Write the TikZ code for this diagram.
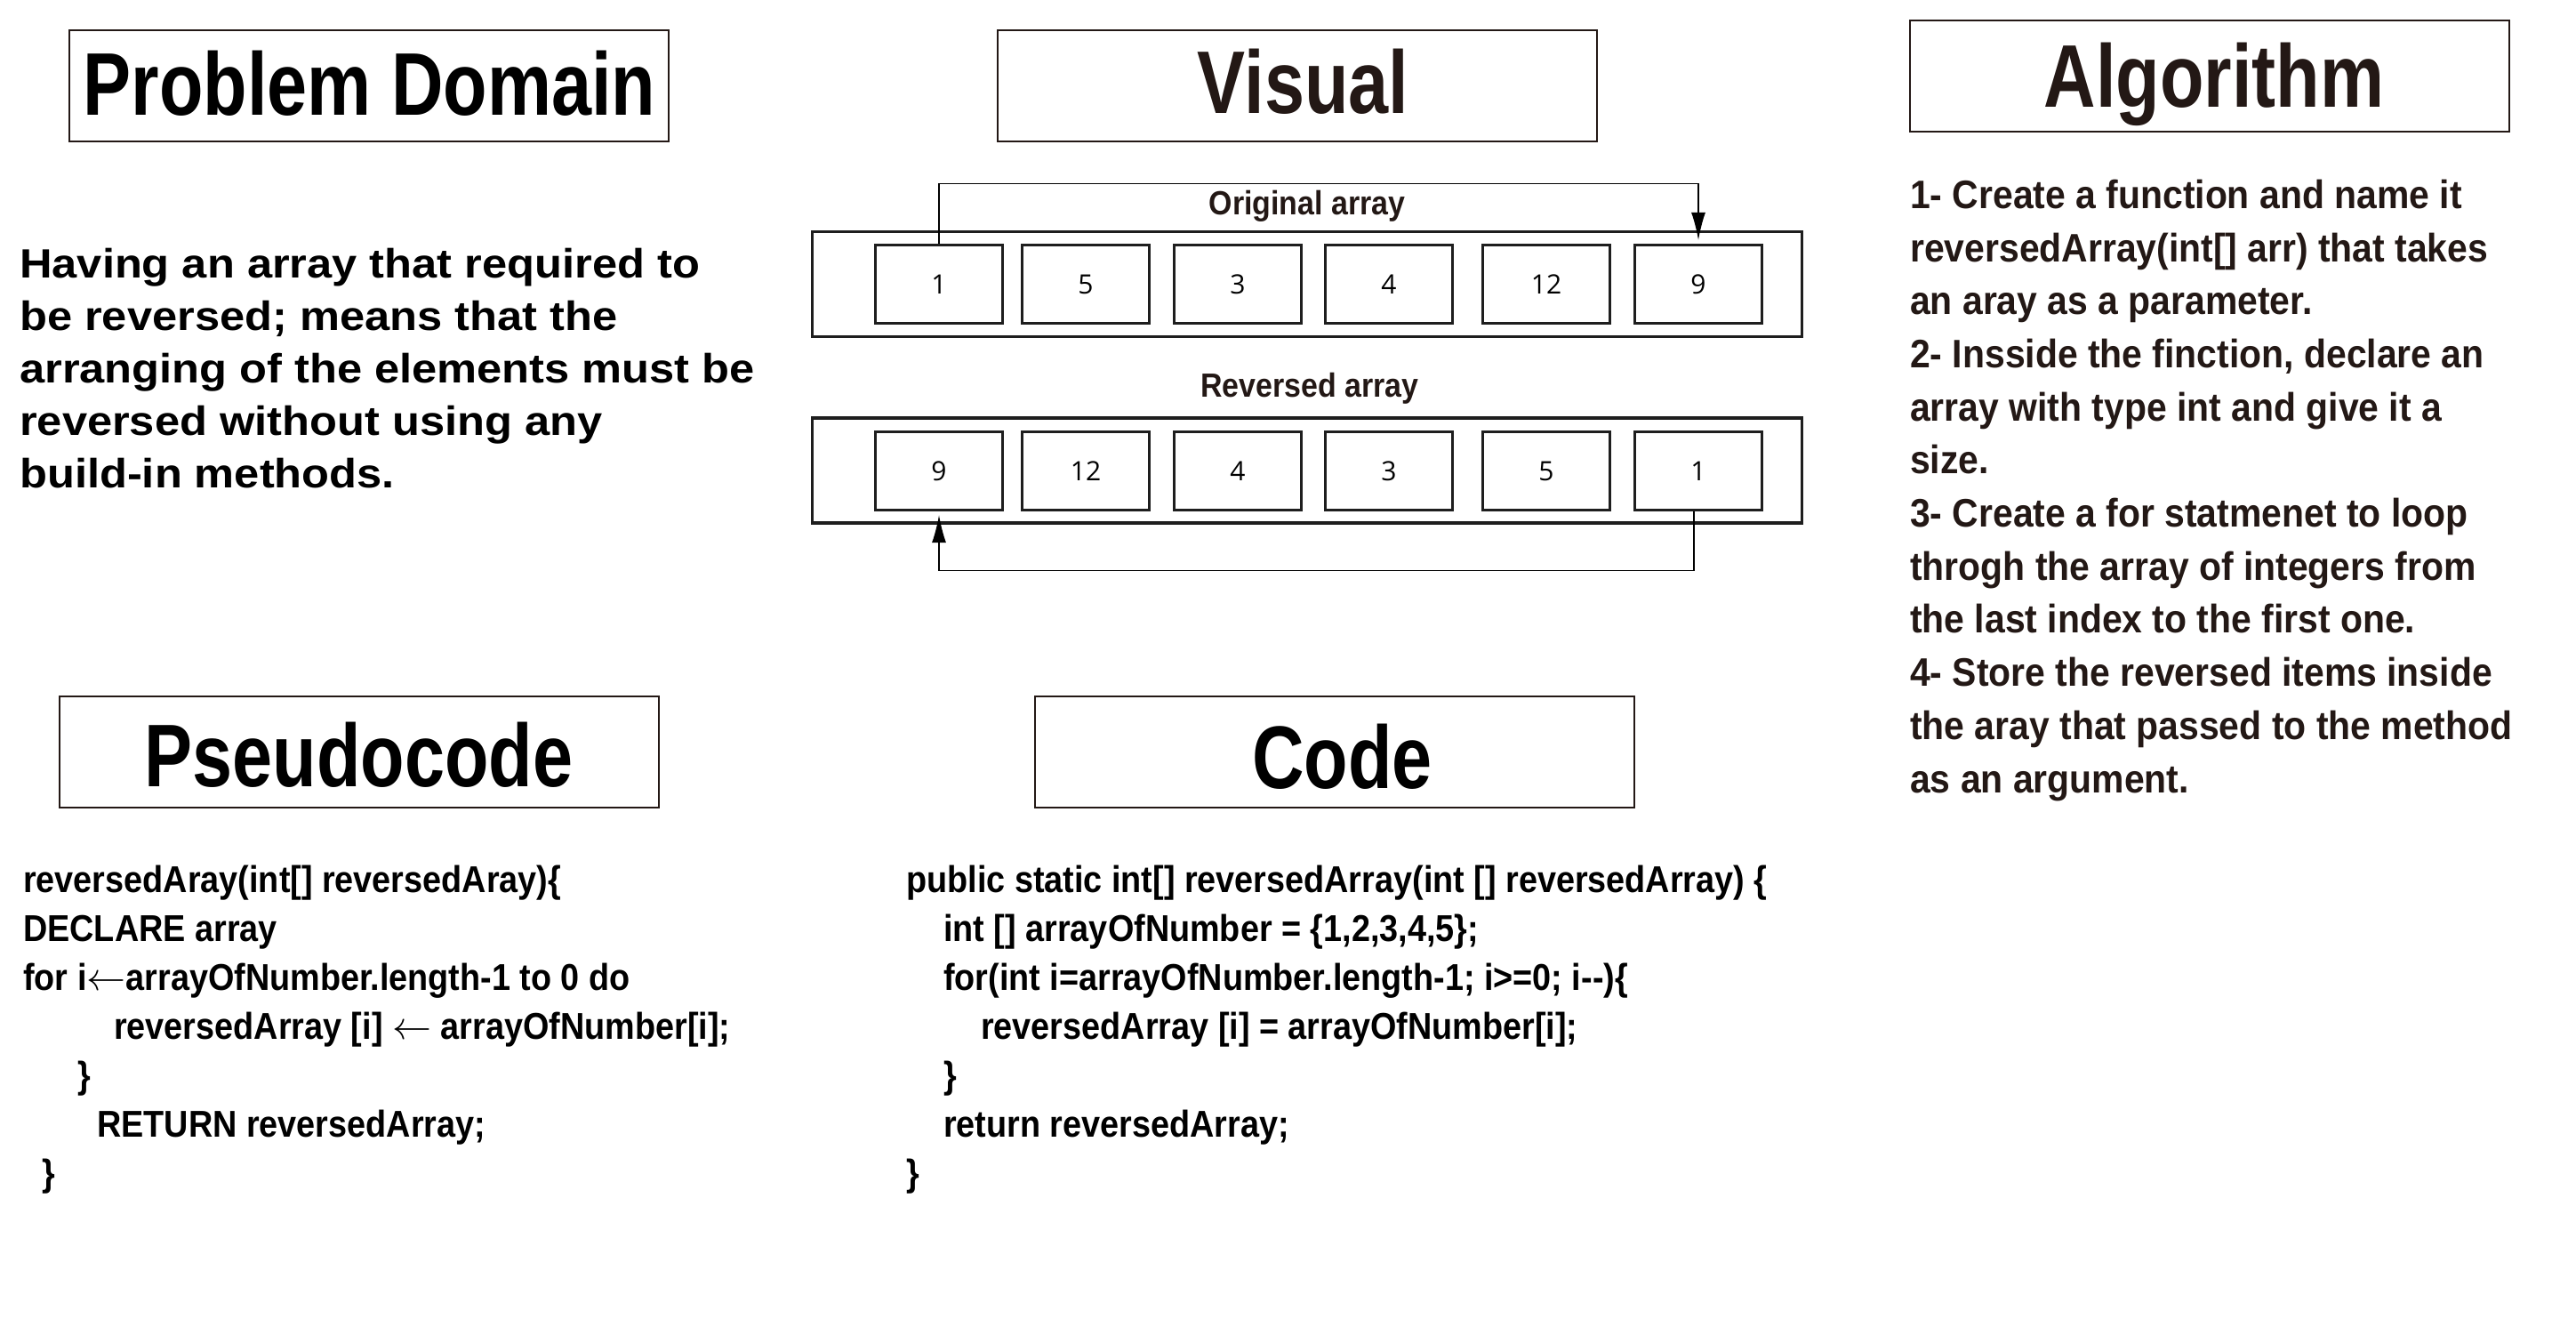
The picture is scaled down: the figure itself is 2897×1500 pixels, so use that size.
\documentclass[tikz,border=0pt]{standalone}
\usepackage{fontspec}
\usepackage{graphicx}
\usetikzlibrary{arrows.meta}
\newfontfamily\titlef{Liberation Sans}[FakeStretch=0.81]
\newfontfamily\labelf{Liberation Sans}[FakeStretch=0.90]
\newfontfamily\parf{Liberation Sans}[FakeStretch=1.10]
\newfontfamily\algf{Liberation Sans}[FakeStretch=0.915]
\newfontfamily\codef{Liberation Sans}[FakeStretch=0.90]
\newfontfamily\digitf{Open Sans}
\definecolor{ink}{HTML}{231815}
\definecolor{boxline}{HTML}{1E1E1E}
\newcommand\larr{\resizebox{44pt}{!}{\ensuremath{\mathnormal{\leftarrow}}}}
\begin{document}
\begin{tikzpicture}[x=1pt,y=-1pt,
  titlebox/.style={draw=ink, line width=2pt, minimum width=674pt, minimum height=125pt, inner sep=0pt},
  titletext/.style={anchor=base, inner sep=0pt, font=\titlef\bfseries\fontsize{100}{110}\selectfont},
  outerbox/.style={draw=boxline, line width=3.3pt, minimum width=1113pt, minimum height=118pt, inner sep=0pt},
  cell/.style={draw=boxline, line width=3.3pt, minimum width=143pt, minimum height=88pt, inner sep=0pt, font=\digitf\fontsize{30}{36}\selectfont},
  lbl/.style={anchor=base, inner sep=0pt, text=ink, font=\labelf\bfseries\fontsize{37.7}{45}\selectfont},
  conn/.style={draw=black, line width=1.3pt, -{Latex[length=31pt,width=16pt]}, shorten >=4pt},
  ptext/.style={anchor=base west, inner sep=0pt, font=\parf\bfseries\fontsize{46}{58.9}\selectfont},
  atext/.style={anchor=base west, inner sep=0pt, text=ink, font=\algf\bfseries\fontsize{44.7}{59.7}\selectfont},
  ctext/.style={anchor=base west, inner sep=0pt, font=\codef\bfseries\fontsize{42}{55}\selectfont}
]
\fill[white] (0,0) rectangle (2897,1500);
\useasboundingbox (0,0) rectangle (2897,1500);

% title boxes
\node[titlebox] (pdbox) at (415,96.3) {};
\node[titletext] (pdtitle) at (415.6,129) {Problem Domain};
\node[titlebox] (visbox) at (1458.5,96.3) {};
\node[titletext, text=ink] (vistitle) at (1465.5,127) {Visual};
\node[titlebox] (algbox) at (2485,85.3) {};
\node[titletext, text=ink] (algtitle) at (2490,120.8) {Algorithm};
\node[titlebox] (psbox) at (404,845.5) {};
\node[titletext] (pstitle) at (403.5,884) {Pseudocode};
\node[titlebox] (codebox) at (1501,845.5) {};
\node[titletext] (codetitle) at (1509.5,886) {Code};

% problem domain text
\node[ptext] (pdtext) at (22,312.8) {\begin{tabular}[t]{@{}l@{}}
Having an array that required to\\
be reversed; means that the\\
arranging of the elements must be\\
reversed without using any\\
build-in methods.
\end{tabular}};

% algorithm text
\node[atext] (algtext) at (2148,234.3) {\begin{tabular}[t]{@{}l@{}}
1- Create a function and name it\\
reversedArray(int[] arr) that takes\\
an aray as a parameter.\\
2- Insside the finction, declare an\\
array with type int and give it a\\
size.\\
3- Create a for statmenet to loop\\
throgh the array of integers from\\
the last index to the first one.\\
4- Store the reversed items inside\\
the aray that passed to the method\\
as an argument.
\end{tabular}};

% visual
\node[lbl] (lorig) at (1470,241) {Original array};
\node[lbl] (lrev) at (1473,446) {Reversed array};
\node[outerbox] (o1) at (1470,319.5) {};
\node[outerbox] (o2) at (1470,529) {};
\node[cell] (c1) at (1056,319.5) {1};
\node[cell] (c2) at (1221,319.5) {5};
\node[cell] (c3) at (1392,319.5) {3};
\node[cell] (c4) at (1562,319.5) {4};
\node[cell] (c5) at (1739,319.5) {12};
\node[cell] (c6) at (1910,319.5) {9};
\node[cell] (r1) at (1056,529.5) {9};
\node[cell] (r2) at (1221,529.5) {12};
\node[cell] (r3) at (1392,529.5) {4};
\node[cell] (r4) at (1562,529.5) {3};
\node[cell] (r5) at (1739,529.5) {5};
\node[cell] (r6) at (1910,529.5) {1};
\draw[conn] (c1.north) -- ++(0,-67.5) -| (c6.north);
\draw[conn] ([xshift=-5pt]r6.south) -- ++(0,66.5) -| (r1.south);

% pseudocode
\node[ctext] (pstext) at (26,1003) {\begin{tabular}[t]{@{}l@{}}
reversedAray(int[] reversedAray)\{\\
DECLARE array\\
for i\larr arrayOfNumber.length-1 to 0 do\\
\hspace*{102pt}reversedArray [i] \larr{} arrayOfNumber[i];\\
\hspace*{61pt}\}\\
\hspace*{83pt}RETURN reversedArray;\\
\hspace*{21pt}\}
\end{tabular}};

% code
\node[ctext] (codetext) at (1019,1003) {\begin{tabular}[t]{@{}l@{}}
public static int[] reversedArray(int [] reversedArray) \{\\
\hspace*{42pt}int [] arrayOfNumber = \{1,2,3,4,5\};\\
\hspace*{42pt}for(int i=arrayOfNumber.length-1; i>=0; i-{}-)\{\\
\hspace*{84pt}reversedArray [i] = arrayOfNumber[i];\\
\hspace*{42pt}\}\\
\hspace*{42pt}return reversedArray;\\
\}
\end{tabular}};
\end{tikzpicture}
\end{document}
